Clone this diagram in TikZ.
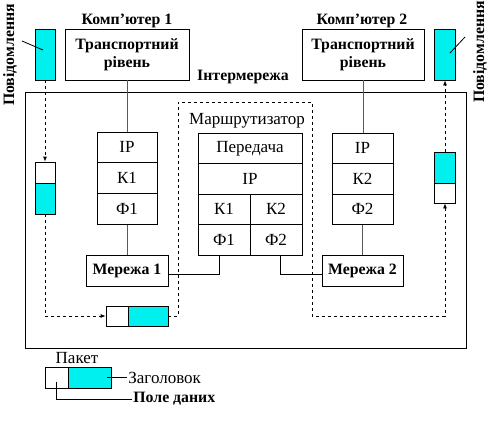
\documentclass[tikz,border=0pt]{standalone}
\usepackage{fontspec}
\setmainfont{Liberation Serif}
\usetikzlibrary{arrows.meta}
\definecolor{aqua}{RGB}{0,240,240}

\begin{document}
\begin{tikzpicture}[x=1pt,y=-1pt,line width=0.8pt,
    txt/.style={font=\fontsize{17}{18}\selectfont},
    hdr/.style={font=\fontsize{15.8}{18}\selectfont\bfseries},
    cell/.style={draw,inner sep=0pt,txt},
    data/.style={draw,fill=aqua,inner sep=0pt},
    hole/.style={draw,fill=white,inner sep=0pt},
    wire/.style={draw=black!65},
    flow/.style={dashed,-{Latex[length=5pt,width=4pt]}}]
  \useasboundingbox (0,0) rectangle (490,426);
  % internetwork and router
  \draw (25,92) rectangle (466,348);
  \coordinate (ra) at (178,316);
  \coordinate (rb) at (178,102);
  \coordinate (rc) at (312,102);
  \coordinate (rd) at (312,316);
  \node[hdr] (inet) at (243,77) {Інтермережа};
  \node[txt] (rtr) at (247,121) {Маршрутизатор};
  % computers
  \node[hdr] (pc1) at (127,21) {Комп'ютер 1};
  \node[hdr] (pc2) at (362,21) {Комп'ютер 2};
  \node[cell,hdr,align=center,minimum width=124pt,minimum height=51pt] (tr1) at (127,54.5) {Транспортний\\рівень};
  \node[cell,hdr,align=center,minimum width=122pt,minimum height=51pt] (tr2) at (363,54.5) {Транспортний\\рівень};
  % stack 1
  \node[cell,minimum width=60pt,minimum height=30.7pt] (ip1) at (127,147.35) {IP};
  \node[cell,minimum width=60pt,minimum height=30.7pt] (k1) at (127,178.05) {К1};
  \node[cell,minimum width=60pt,minimum height=30.7pt] (f1) at (127,208.75) {Ф1};
  % stack 2
  \node[cell,minimum width=61pt,minimum height=30.5pt] (ip2) at (362.5,148.25) {IP};
  \node[cell,minimum width=61pt,minimum height=30.5pt] (k2) at (362.5,178.75) {К2};
  \node[cell,minimum width=61pt,minimum height=30.5pt] (f2) at (362.5,209.25) {Ф2};
  % router stack
  \node[cell,minimum width=104pt,minimum height=30.5pt] (rfw) at (250,148.25) {Передача};
  \node[cell,minimum width=104pt,minimum height=30.5pt] (rip) at (250,178.75) {IP};
  \node[cell,minimum width=52pt,minimum height=30.5pt] (rk1) at (224,209.25) {К1};
  \node[cell,minimum width=52pt,minimum height=30.5pt] (rk2) at (276,209.25) {К2};
  \node[cell,minimum width=52pt,minimum height=30.5pt] (rf1) at (224,239.75) {Ф1};
  \node[cell,minimum width=52pt,minimum height=30.5pt] (rf2) at (276,239.75) {Ф2};
  % networks
  \node[cell,hdr,minimum width=82pt,minimum height=31pt] (net1) at (127,270.5) {Мережа 1};
  \node[cell,hdr,minimum width=81pt,minimum height=31pt] (net2) at (362.5,270.5) {Мережа 2};
  \begin{scope}[wire]
    \draw (tr1) -- (ip1);
    \draw (tr2.south) -- (tr2.south |- ip2.north);
    \draw (f1) -- (net1);
    \draw (f2) -- (net2);
  \end{scope}
  \draw ([xshift=-5pt]rf1.south) |- ([yshift=-4pt]net1.east);
  \draw ([xshift=4pt]rf2.south) |- ([yshift=-4pt]net2.west);
  % messages
  \node[data,minimum width=20pt,minimum height=51pt] (lm1) at (45,54.5) {};
  \node[hole,minimum width=20pt,minimum height=21pt] (lm2t) at (45,172.5) {};
  \node[data,minimum width=20pt,minimum height=31pt] (lm2b) at (45,198.5) {};
  \node[data,minimum width=21pt,minimum height=51pt] (rm1) at (445,54.5) {};
  \node[data,minimum width=21pt,minimum height=31pt] (rm2t) at (445,167.5) {};
  \node[hole,minimum width=21pt,minimum height=20pt] (rm2b) at (445,193) {};
  \node[hole,minimum width=22pt,minimum height=20pt] (pkh) at (117,316) {};
  \node[data,minimum width=40pt,minimum height=20pt] (pkd) at (148,316) {};
  \node[hdr,rotate=90] (msgl) at (10,55) {Повідомлення};
  \node[hdr,rotate=90] (msgr) at (480,52) {Повідомлення};
  \draw ([shift={(-2,-4.5)}]lm1.center) -- ++(-21,-9);
  \draw ([shift={(5,-1.5)}]rm1.center) -- ++(15,-16);
  % packet path
  \draw[flow] (lm1.south) -- (lm2t.north);
  \draw[flow] (lm2b.south) |- (pkh.west);
  \draw[flow] (pkd.east) -- (ra) -- (rb) -- (rc) -- (rd) -| (rm2b.south);
  \draw[flow] (rm2t.north) -- (rm1.south);
  % legend
  \node[txt] (pkt) at (77,358) {Пакет};
  \node[hole,minimum width=23pt,minimum height=21pt] (lgh) at (56.5,377.5) {};
  \node[data,minimum width=43pt,minimum height=21pt] (lgd) at (89.5,377.5) {};
  \node[txt,anchor=west,inner sep=1pt] (hdrl) at (127,377.5) {Заголовок};
  \node[hdr,anchor=west,inner sep=1pt] (datl) at (132,399) {Поле даних};
  \draw ([xshift=-4pt]lgd.east) -- (hdrl.west);
  \draw ([yshift=-4pt]lgh.center) |- (datl.west);
\end{tikzpicture}
\end{document}
